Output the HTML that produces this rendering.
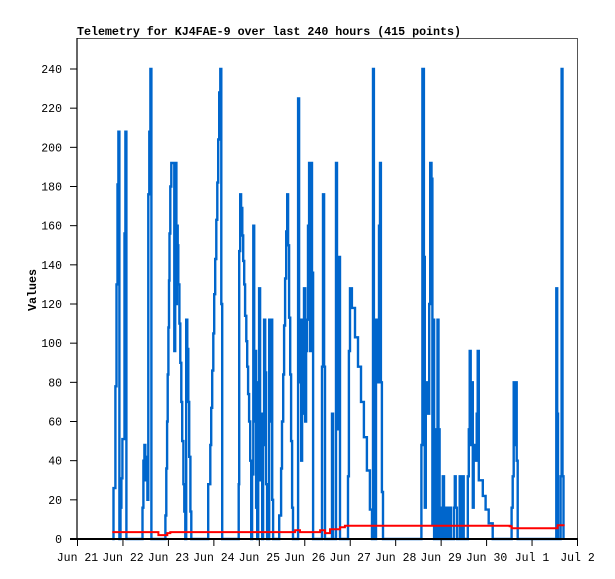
<!DOCTYPE html>
<html><head><meta charset="utf-8"><style>
html,body{margin:0;padding:0;background:#fff;}
svg{display:block;font-family:"Liberation Mono","DejaVu Sans Mono",monospace;}
</style></head><body>
<svg id="chart" width="615" height="579" xmlns="http://www.w3.org/2000/svg">
<rect x="0" y="0" width="615" height="579" fill="#fff"/>
<text x="77" y="35" font-size="11.7" font-weight="bold" textLength="384">Telemetry for KJ4FAE-9 over last 240 hours (415 points)</text>
<text transform="translate(36,290) rotate(-90)" text-anchor="middle" font-size="11.7" font-weight="bold">Values</text>
<g id="grid"></g>
<g id="series"></g>
<g id="axes"></g>
</svg>
<script>
const dayLabels = ["Jun 21","Jun 22","Jun 23","Jun 24","Jun 25","Jun 26","Jun 27","Jun 28","Jun 29","Jun 30","Jul 1","Jul 2"];
const yTicks = [0,20,40,60,80,100,120,140,160,180,200,220,240];
const blueHours = [18.4,19.0,20.0,20.6,21.1,21.6,22.1,22.7,23.2,23.7,24.8,25.3,25.8,
33.7,34.3,34.8,35.3,35.8,36.4,36.9,37.4,37.9,38.5,39.0,
46.4,46.9,47.3,47.6,48.0,48.3,48.6,49.0,49.5,50.6,51.1,51.6,52.2,52.5,52.9,53.2,53.8,54.3,54.8,55.3,55.9,56.4,56.9,57.4,58.0,58.5,59.0,59.6,60.1,
68.5,69.0,70.1,70.6,71.1,71.7,72.2,72.7,73.3,73.8,74.3,74.8,75.4,75.9,76.4,
84.8,85.1,85.4,85.9,86.4,87.0,87.5,88.0,88.5,89.1,89.6,90.1,90.6,91.2,91.7,92.2,92.8,93.3,93.8,94.3,94.9,95.4,95.9,96.4,97.0,97.5,98.0,98.5,99.1,99.6,100.1,101.2,101.7,102.2,102.8,103.3,106.5,
107.0,107.5,108.0,108.6,109.1,109.6,110.2,110.7,111.2,111.7,112.3,112.8,113.3,113.8,115.9,116.5,117.0,117.5,118.1,118.6,119.1,119.6,120.2,120.7,121.2,121.7,122.3,122.8,123.3,123.8,124.4,128.6,129.1,129.6,130.2,130.7,134.4,134.9,136.0,136.5,137.0,137.5,138.1,138.6,142.3,142.8,143.3,143.9,144.9,146.5,148.1,149.7,151.2,152.8,154.4,155.5,156.0,156.5,157.6,158.1,159.2,159.7,160.2,160.7,161.3,
181.3,181.6,182.1,182.9,183.4,183.9,184.6,185.1,185.7,186.2,186.9,187.4,187.8,188.3,188.9,189.5,190.1,190.6,191.2,192.4,192.9,193.5,194.5,195.0,195.5,196.6,197.1,198.7,199.2,199.7,200.3,201.8,202.3,202.9,203.4,203.9,206.1,206.6,207.1,207.6,208.2,208.7,209.2,210.3,210.8,211.3,211.9,214.0,215.5,217.1,219.2,228.7,229.2,229.8,230.3,230.8,231.4,231.9,232.4,252.4,252.8,253.3,253.7,255.1,255.6,256.1,256.6];
const blueValues = [0,26,78,130,181,208,0,16,31,51,156,208,0,
0,16,40,48,30,42,20,176,208,240,0,
12,36,60,84,108,132,156,180,192,192,96,192,120,160,150,130,110,90,70,50,28,14,0,112,97,70,42,14,0,
0,28,48,67,86,105,125,143,163,182,204,228,240,120,0,
0,28,147,176,169,155,142,130,114,101,88,74,60,40,0,33,160,60,96,16,0,80,128,30,64,0,48,112,85,28,0,112,60,112,20,0,12,
12,36,60,84,109,133,157,176,150,113,84,50,16,0,0,225,112,80,40,112,64,128,60,96,112,160,192,96,192,136,0,0,88,176,88,0,64,0,0,192,56,64,144,0,0,32,96,128,118,103,88,70,52,35,15,0,240,0,112,80,160,192,80,24,0,
0,48,240,144,16,72,80,64,120,192,184,7,112,0,56,0,112,56,0,16,32,0,16,16,0,16,0,16,32,16,0,32,16,0,32,0,32,56,96,48,80,16,48,40,64,96,30,22,15,8,0,0,16,32,80,48,80,40,0,0,128,64,0,32,240,32,0];
const redHours = [18.4,42.2,42.7,46.9,47.4,49.0,112.3,114.9,117.5,128.1,130.7,133.3,138.6,141.2,227.1,228.2,229.2,253.0,253.5,257.2];
const redValues = [3.5,3.5,2,2,3,3.5,3.5,4.5,3.5,4.5,3,5,6,6.8,6.8,6.5,5.5,5.5,7,7];

const NS="http://www.w3.org/2000/svg";
const X0=77.5, X1=577.5, Y0=539, YTOP=69, HMAX=264, VMAX=240;
function xs(h){return X0+(X1-X0)*h/HMAX;}
function ys(v){return Y0-(Y0-YTOP)*v/VMAX;}
function mk(tag,attrs,parent){const e=document.createElementNS(NS,tag);for(const k in attrs)e.setAttribute(k,attrs[k]);parent.appendChild(e);return e;}
function stepPts(hs,vs){
  const p=[];
  for(let i=0;i<hs.length;i++){
    if(i>0)p.push(xs(hs[i]).toFixed(1)+','+ys(vs[i-1]).toFixed(1));
    p.push(xs(hs[i]).toFixed(1)+','+ys(vs[i]).toFixed(1));
  }
  return p.join(' ');
}
const axes=document.getElementById('axes'), series=document.getElementById('series'), grid=document.getElementById('grid');

const frame=mk('path',{d:`M77 539 V38.5 H577.5 V539`,fill:'none',stroke:'#555','stroke-width':1},grid);



const blue=mk('polyline',{points:stepPts(blueHours,blueValues),fill:'none',stroke:'#0066cc','stroke-width':2.4,'stroke-linejoin':'miter'},series);


const red=mk('polyline',{points:stepPts(redHours,redValues),fill:'none',stroke:'#ff0000','stroke-width':2},series);



const yl=mk('line',{x1:77,y1:38,x2:77,y2:539,stroke:'#000','stroke-width':1.2},axes);


const xl=mk('line',{x1:70,y1:539,x2:578,y2:539,stroke:'#000','stroke-width':2},axes);



yTicks.forEach(v=>{
  const t=mk('line',{x1:70,y1:ys(v),x2:77,y2:ys(v),stroke:'#000','stroke-width':1},axes);
  
  
  const l=mk('text',{x:62,y:ys(v)+4,'text-anchor':'end','font-size':11.5},axes);
  l.textContent=v;
  
  
});
dayLabels.forEach((d,i)=>{
  const x=xs(i*24);
  const t=mk('line',{x1:x,y1:539,x2:x,y2:546,stroke:'#000','stroke-width':1},axes);
  
  
  const l=mk('text',{x:x,y:561,'text-anchor':'middle','font-size':11.5},axes);
  l.textContent=d;
  
  
});
</script>
</body></html>
